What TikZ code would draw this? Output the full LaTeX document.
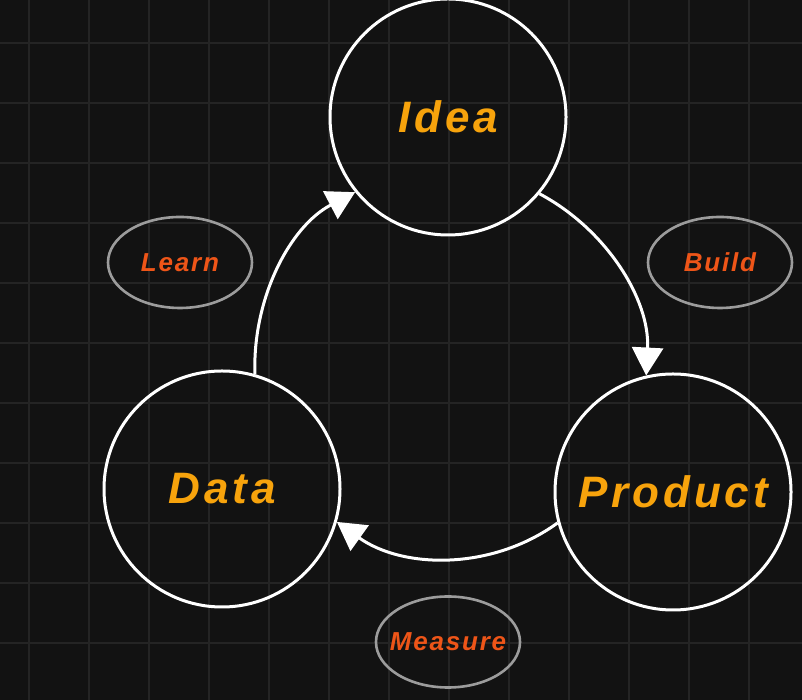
\documentclass[tikz,border=0pt]{standalone}
\usepackage{fontspec}
\usetikzlibrary{arrows.meta,shapes.geometric}
\newfontfamily\bigfont[LetterSpace=9]{Liberation Sans Bold Italic}
\newfontfamily\smallfont[LetterSpace=7]{Liberation Sans Bold Italic}
\definecolor{bgc}{HTML}{121212}
\definecolor{gridc}{HTML}{242424}
\definecolor{bigtxt}{HTML}{F7A30C}
\definecolor{smalltxt}{HTML}{EE5518}
\definecolor{ellc}{HTML}{9C9C9C}
\tikzset{
  gridline/.style={draw=gridc, line width=2pt},
  stage/.style={circle, draw=white, line width=3pt, minimum size=236pt, inner sep=0pt,
    text=bigtxt, font=\bigfont\fontsize{44}{50}\selectfont},
  phase/.style={ellipse, draw=ellc, line width=2.6pt, minimum width=144pt, minimum height=91pt,
    inner xsep=-14pt, inner ysep=0pt,
    text=smalltxt, font=\smallfont\fontsize{26}{30}\selectfont},
  flow/.style={draw=white, line width=3pt, -{Triangle[length=28pt, width=31pt]}}
}
\begin{document}
\begin{tikzpicture}[x=1pt, y=1pt]
  \useasboundingbox (0,0) rectangle (802,700);
  \fill[bgc] (0,0) rectangle (802,700);
  \foreach \x in {29,89,...,749} \draw[gridline] (\x,0) -- (\x,700);
  \foreach \y in {57,117,...,657} \draw[gridline] (0,\y) -- (802,\y);
  \node[stage] (idea) at (448,583) {Idea};
  \node[stage] (data) at (222,211) {Data};
  \node[stage] (product) at (673,208) {Product};
  \node[phase] (learn) at (180,437.5) {Learn};
  \node[phase] (build) at (720,437.5) {Build};
  \node[phase] (measure) at (448,58) {Measure};
  \draw[flow] (idea.-40) to[out=-28, in=87, looseness=0.92] (product.103.5);
  \draw[flow] (product.195) to[out=-144, in=-35.5, looseness=0.94] (data.-16.6);
  \draw[flow] (data.74) to[out=92, in=-152.3, looseness=0.92] (idea.219);
\end{tikzpicture}
\end{document}
